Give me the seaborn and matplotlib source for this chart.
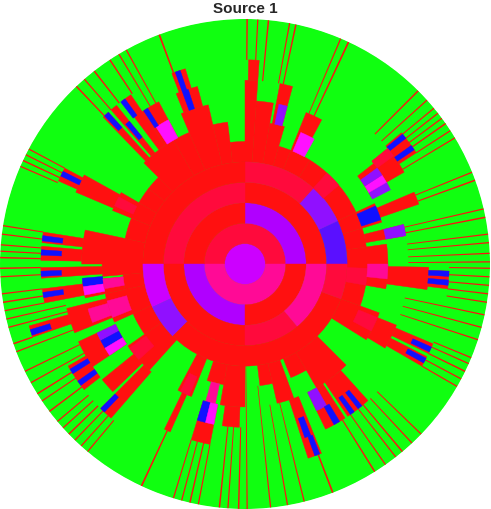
import numpy as np
import seaborn as sns
import matplotlib
matplotlib.use("Agg")
import matplotlib.pyplot as plt

sns.set_theme(style="white")
plt.rcParams["font.family"] = ["Liberation Sans", "DejaVu Sans"]

# colour codes used in the tree
palette = {
    "G": "#10ff10",  # leaf / empty
    "R": "#ff1010",  # red
    "C": "#ff0a3c",  # crimson
    "P": "#ff0a96",  # pink
    "M": "#ff10ff",  # magenta
    "D": "#cc00ff",  # purple magenta
    "U": "#b000ff",  # purple
    "V": "#9010ff",  # violet
    "I": "#5a10ff",  # indigo
    "B": "#1010ff",  # blue
}

center_color = "D"

# inner rings: (start deg, end deg, colour)
ring1 = [(0, 180, "C"), (180, 360, "P")]
ring2 = [(0, 90, "U"), (90, 180, "R"), (180, 270, "U"), (270, 360, "R")]
ring3 = [(0, 90, "R"), (90, 180, "C"), (180, 270, "R"), (270, 310, "C"), (310, 360, "P")]
ring4 = [(0, 25, "I"), (25, 48, "V"), (48, 90, "C"), (90, 180, "R"), (180, 205, "D"),
         (205, 225, "V"), (225, 270, "R"), (270, 340, "R"), (340, 360, "C")]

# red body beyond ring 4: (start, end, outer level)
red_reach = [
    (0, 8, 7), (8, 17, 6), (17, 25, 7), (25, 45, 6), (45, 58, 6), (58, 68, 6), (68, 74, 6),
    (74, 80, 7), (80, 86, 8), (86, 90, 9),
    (90, 97, 6), (97, 103, 7), (103, 113, 8), (113, 120, 7), (120, 135, 7), (135, 142, 6),
    (142, 150, 6), (150, 158, 7), (158, 168, 6), (168, 180, 8),
    (180, 185, 7), (185, 192, 6), (192, 204, 7), (204, 215, 6), (215, 228, 7), (242, 248, 7),
    (252, 260, 6), (260, 270, 7),
    (277, 283, 6), (283, 290, 7), (292, 300, 6), (300, 315, 7), (328, 340, 7), (340, 350, 6),
    (350, 360, 7),
]

# narrower red branches: (start, end, inner level, outer level)
arms = [
    (10, 14, 6, 8), (19, 23, 7, 9), (28, 38, 7, 8), (30, 39, 8, 9), (33, 40, 9, 10),
    (62, 68, 6, 8), (75, 79, 7, 9), (86, 89, 9, 10),
    (105, 112, 8, 9), (107, 111, 9, 10), (118, 124, 7, 9), (124, 127, 7, 10), (129, 131, 7, 10),
    (132, 134, 7, 10), (151, 157, 7, 9), (152, 156, 9, 10), (171, 174, 8, 10), (175, 179, 8, 10),
    (181, 184, 7, 10), (186, 192, 6, 8), (187, 191, 8, 10), (194, 202, 7, 9), (196, 199, 9, 11),
    (205, 214, 7, 9), (210, 218, 9, 10), (219, 224, 7, 9), (225, 229, 7, 10), (244, 246, 7, 9),
    (253, 259, 7, 9), (262, 268, 7, 8),
    (288, 292, 7, 10), (296, 303, 7, 9), (304, 312, 7, 9), (329, 338, 7, 8), (330, 333, 8, 10),
    (334, 337, 8, 10), (352, 359, 7, 9), (353, 358, 9, 10),
]

# coloured cells: (start, end, level, colour)
cells = [
    (10, 14, 7, "V"), (18, 24, 6, "B"), (27, 30, 7, "V"), (30, 33, 7, "M"), (33, 36, 7, "V"),
    (34, 35.5, 9, "B"), (38, 39.5, 9, "B"), (36, 39, 8, "C"), (61, 67, 6, "M"), (75, 78, 7, "V"),
    (40, 48, 5, "C"),
    (108, 110, 8, "B"), (108.5, 110, 9, "B"), (118, 123, 7, "M"), (122, 123.5, 8, "B"),
    (126, 127.5, 9, "B"), (129, 130.5, 8, "B"), (132, 133.5, 9, "B"), (152, 156, 6, "C"),
    (153, 154.5, 9, "B"), (172, 173.5, 9, "B"), (176, 177.5, 9, "B"),
    (182, 183.5, 9, "B"), (185, 188, 7, "B"), (188, 191, 7, "M"), (186, 190, 6, "P"),
    (188, 189.5, 9, "B"), (195, 202, 6, "P"), (196, 201, 7, "P"), (197, 198.5, 10, "B"),
    (205, 208, 7, "V"), (208, 211, 7, "B"), (211, 214, 7, "M"), (211, 212.5, 9, "B"),
    (215, 216.5, 9, "B"), (216, 222, 6, "C"), (225, 226.5, 9, "B"), (243, 247, 6, "C"),
    (254, 258, 6, "P"), (253, 256, 7, "B"), (256, 259, 7, "M"),
    (289, 291, 8, "B"), (290, 291.5, 9, "B"), (296, 300, 7, "V"), (299, 301, 8, "B"),
    (305, 306.5, 8, "B"), (308, 309.5, 8, "B"), (332, 338, 6, "C"), (331, 332.5, 9, "B"),
    (334.5, 336, 9, "B"), (350, 358, 5, "C"), (354, 360, 6, "P"), (354, 355.5, 9, "B"),
    (356.5, 358, 9, "B"),
]

# thin red branches running to the rim: (angle, width, inner level)
spikes = [
    (0.5, 0.3, 8), (2.5, 0.3, 8), (5, 0.3, 8), (7, 0.3, 8), (11, 0.35, 8), (13, 0.3, 8),
    (20, 0.35, 9), (22, 0.3, 9), (31, 0.3, 9), (33, 0.3, 10), (35, 0.35, 10), (36.5, 0.3, 10),
    (38, 0.3, 10), (39.5, 0.3, 10), (42, 0.3, 9), (45, 0.35, 9), (65, 0.4, 8), (67, 0.3, 8),
    (78, 0.35, 9), (79.5, 0.3, 9), (84.5, 0.35, 9), (87, 0.3, 10), (89.5, 0.35, 10),
    (110.5, 0.4, 10), (119, 0.3, 9), (121, 0.3, 9), (123.5, 0.35, 10), (128, 0.35, 10),
    (131, 0.3, 10), (133.5, 0.35, 10), (152, 0.3, 10), (153.5, 0.3, 10), (155, 0.35, 10),
    (156.5, 0.3, 10), (171, 0.3, 10), (173, 0.3, 10), (175.5, 0.3, 10), (177, 0.3, 10),
    (178.5, 0.35, 10),
    (181, 0.35, 10), (183, 0.3, 10), (187, 0.3, 10), (189, 0.35, 10), (191, 0.3, 10),
    (193, 0.3, 9), (195, 0.3, 9), (199, 0.35, 11), (201, 0.3, 9), (206, 0.3, 9), (209, 0.3, 9),
    (212, 0.35, 10), (214, 0.3, 9), (217, 0.35, 10), (220, 0.3, 10), (222, 0.3, 10),
    (224, 0.35, 10), (226, 0.3, 10), (228, 0.3, 10), (230, 0.3, 10), (245, 0.4, 9),
    (253, 0.3, 9), (255, 0.3, 9), (257, 0.35, 9), (259, 0.3, 9), (264, 0.35, 8), (266, 0.3, 8),
    (268.5, 0.35, 8),
    (270.5, 0.3, 5), (276, 0.3, 6), (280, 0.3, 7), (284, 0.3, 7), (291, 0.4, 10),
    (302, 0.35, 9), (305, 0.3, 9), (308, 0.3, 9), (310, 0.35, 9), (313, 0.3, 9), (316, 0.3, 9),
    (330, 0.3, 10), (332, 0.3, 10), (334, 0.35, 10), (336, 0.3, 10), (337.5, 0.3, 10),
    (342, 0.3, 8), (345, 0.3, 8), (348, 0.3, 8), (351, 0.3, 10), (353, 0.3, 10),
    (355, 0.3, 10), (357, 0.3, 10), (359, 0.3, 10),
]

OUTER = 12


def wedge(ax, t0, t1, r0, r1, code, lw=0.3):
    c = palette[code]
    ax.bar(np.deg2rad((t0 + t1) / 2), r1 - r0, width=np.deg2rad(t1 - t0), bottom=r0,
           color=c, edgecolor=c, linewidth=lw, align="center")


fig = plt.figure(figsize=(4.91, 5.09), dpi=100)
ax = fig.add_axes([0, 0, 490 / 491, 490 / 509], projection="polar")

wedge(ax, 0, 360, 0, OUTER, "G")
for t0, t1, lv in red_reach:
    wedge(ax, t0, t1, 5, lv, "R")
wedge(ax, 0, 360, 0, 1, center_color)
for lvl, ring in enumerate([ring1, ring2, ring3, ring4], start=1):
    for t0, t1, code in ring:
        wedge(ax, t0, t1, lvl, lvl + 1, code)
for t0, t1, l0, l1 in arms:
    wedge(ax, t0, t1, l0, l1, "R")
for th, w, l0 in spikes:
    wedge(ax, th - w / 2, th + w / 2, l0, OUTER, "R", lw=0)
for t0, t1, lv, code in cells:
    wedge(ax, t0, t1, lv, lv + 1, code)

ax.set_ylim(0, OUTER)
ax.set_axis_off()

fig.text(245 / 491, 1 - 9 / 509, "Source 1", ha="center", va="center",
         fontsize=11, fontweight="bold")

fig.savefig("out.png", dpi=100)
